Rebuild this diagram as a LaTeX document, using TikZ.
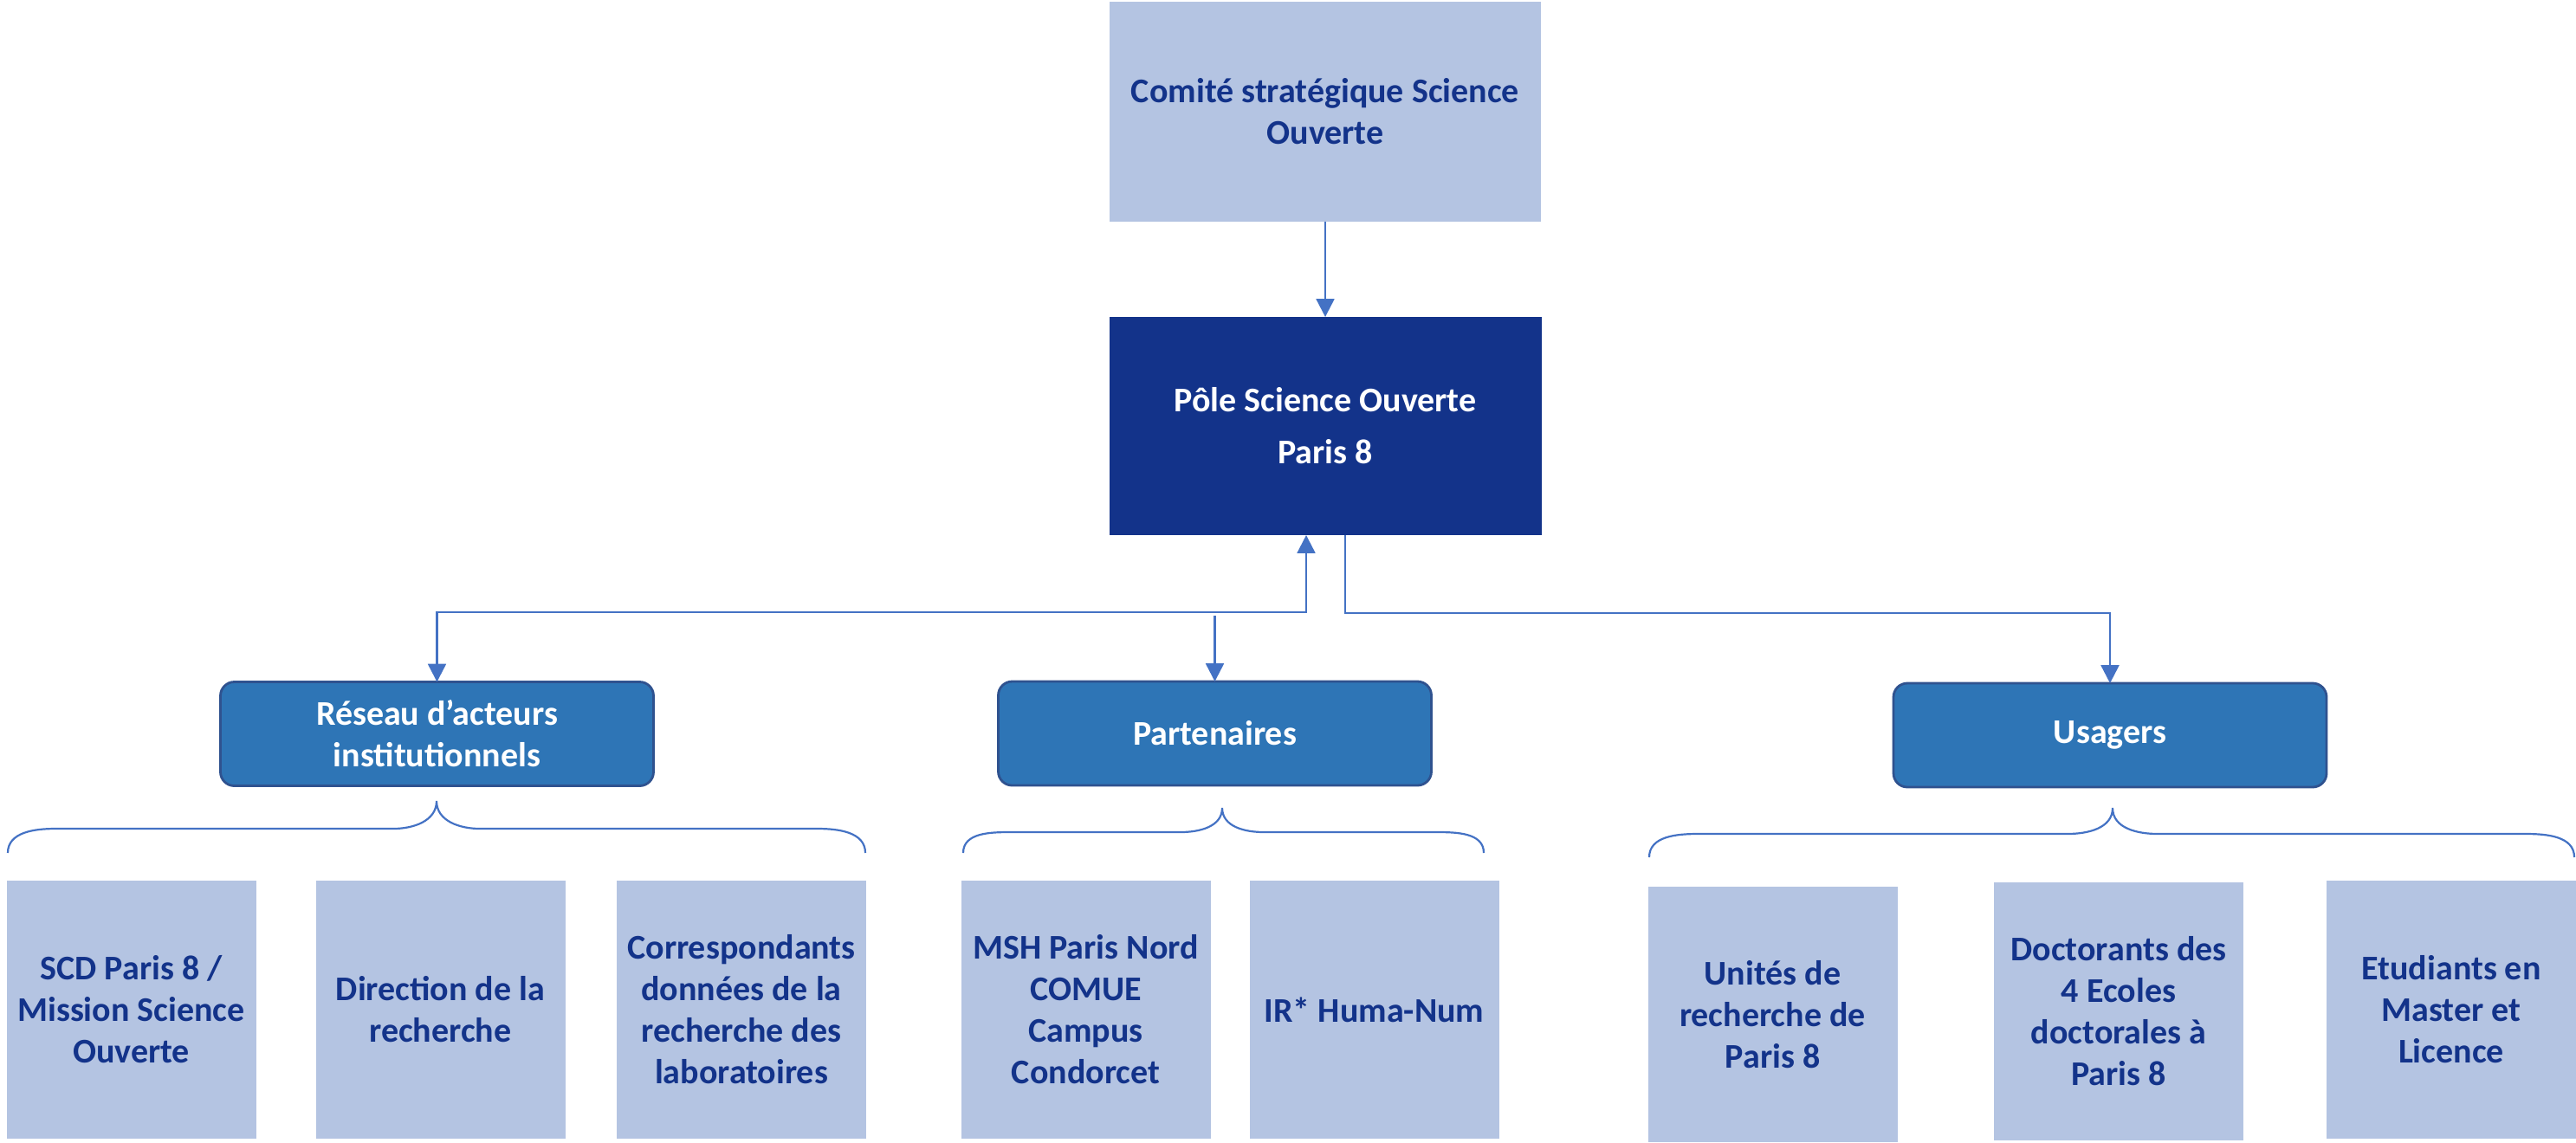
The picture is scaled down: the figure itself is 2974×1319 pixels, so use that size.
\documentclass[tikz,border=0pt]{standalone}
\usepackage{fontspec}
\setmainfont{Carlito}
\usetikzlibrary{arrows.meta}
\definecolor{navy}{HTML}{13338A}
\definecolor{lightbox}{HTML}{B4C4E2}
\definecolor{midbox}{HTML}{2E75B6}
\definecolor{midborder}{HTML}{2F528F}
\definecolor{conncol}{HTML}{4472C4}
\begin{document}
\begin{tikzpicture}[x=0.25pt,y=-0.25pt,
  every node/.style={font={\fontsize{10pt}{12pt}\selectfont\bfseries}, align=center, outer sep=0pt, inner sep=0pt},
  lightbox/.style={fill=lightbox, text=navy, minimum width=72pt, minimum height=74.5pt},
  topbox/.style={fill=lightbox, text=navy, minimum width=124.5pt, minimum height=63.5pt},
  polebox/.style={fill=navy, text=white, minimum width=124.75pt, minimum height=63pt},
  midnode/.style={fill=midbox, draw=midborder, line width=0.7pt, rounded corners=4pt, text=white, minimum width=125pt, minimum height=30pt},
  conn/.style={draw=conncol, line width=0.6pt},
  tipend/.style={-{Triangle[length=5.2pt,width=5.2pt]}},
  bothend/.style={{Triangle[length=5.2pt,width=5.2pt]}-{Triangle[length=5.2pt,width=5.2pt]}},
  bracestyle/.style={draw=conncol, line width=0.55pt}
]
\useasboundingbox (0,0) rectangle (2974,1319);

% top boxes
\node[topbox] (comite) at (1530,129) {Comité stratégique Science\\Ouverte};
\node[polebox] (pole) at (1530,492) {Pôle Science Ouverte\\[3pt]Paris 8};

% middle boxes
\node[midnode] (reseau) at (504.5,847.5) {Réseau d’acteurs\\institutionnels};
\node[midnode] (part) at (1402.5,847) {Partenaires};
\node[midnode] (usagers) at (2436,849) {Usagers};

% bottom boxes
\node[lightbox] (scd) at (151.5,1166) {SCD Paris 8 /\\Mission Science\\Ouverte};
\node[lightbox] (dir) at (508.5,1166) {Direction de la\\recherche};
\node[lightbox] (corr) at (856,1166) {Correspondants\\données de la\\recherche des\\laboratoires};
\node[lightbox] (msh) at (1253.5,1166) {MSH Paris Nord\\COMUE\\Campus\\Condorcet};
\node[lightbox] (ir) at (1586.5,1166) {IR* Huma-Num};
\node[lightbox, minimum height=73.75pt] (unites) at (2046.5,1171.5) {Unités de\\recherche de\\Paris 8};
\node[lightbox] (doct) at (2446,1168) {Doctorants des\\4 Ecoles\\doctorales à\\Paris 8};
\node[lightbox] (etud) at (2830,1166) {Etudiants en\\Master et\\Licence};

% helper coordinates for the horizontal runs
\coordinate (hlL) at (0,707);
\coordinate (hlP) at (0,711);
\coordinate (hlR) at (0,708);

% connectors
\draw[conn, tipend] (comite.south) -- (pole.north);
\draw[conn, bothend] ([xshift=-5.5pt]pole.south) |- (reseau.north |- hlL) -- (reseau.north);
\draw[conn, tipend] (part.north |- hlP) -- (part.north);
\draw[conn, tipend] ([xshift=5.75pt]pole.south) |- (usagers.north |- hlR) -- (usagers.north);

% braces
\draw[bracestyle] (9,985) to[out=90,in=180] (64,957) -- (454,957) to[out=0,in=-90] (504,925)
  to[out=-90,in=180] (554,957) -- (944,957) to[out=0,in=90] (999,985);
\draw[bracestyle] (1112,985) to[out=90,in=180] (1167,961) -- (1363,961) to[out=0,in=-90] (1411,933)
  to[out=-90,in=180] (1459,961) -- (1658,961) to[out=0,in=90] (1713,985);
\draw[bracestyle] (1904,990) to[out=90,in=180] (1960,963) -- (2387,963) to[out=0,in=-90] (2439,933)
  to[out=-90,in=180] (2491,963) -- (2916,963) to[out=0,in=90] (2972,990);
\end{tikzpicture}
\end{document}
